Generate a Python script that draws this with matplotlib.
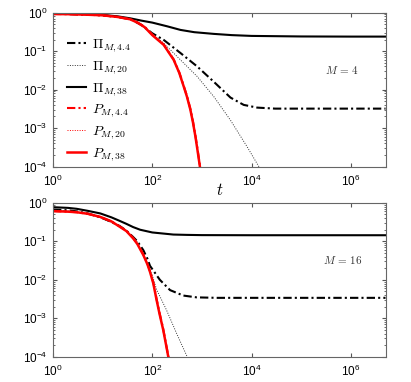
import numpy as np
import matplotlib
matplotlib.use("Agg")
import matplotlib.pyplot as plt
from matplotlib.ticker import LogLocator, NullLocator, FixedLocator, FixedFormatter

plt.rcParams['mathtext.fontset'] = 'cm'
plt.rcParams['font.family'] = ['Liberation Sans', 'DejaVu Sans']

# ---- M = 4 (top panel) ----
t_pi38_a = [1, 2, 5, 10, 20, 36, 60, 100, 200, 370, 700, 1730, 4000, 1e4, 1e5, 1e6, 5e6]
pi38_a = [0.95, 0.94, 0.91, 0.87, 0.8, 0.71, 0.62, 0.55, 0.44, 0.355, 0.31, 0.28, 0.26, 0.248, 0.24, 0.238, 0.238]

t_pi44_a = [1, 2, 5, 10, 20, 36, 60, 100, 170, 370, 800, 1730, 3760, 6950, 1.3e4, 3e4, 1e5, 1e6, 5e6]
pi44_a = [0.93, 0.92, 0.88, 0.85, 0.77, 0.68, 0.48, 0.29, 0.195, 0.089, 0.04, 0.016, 0.0062,
          0.004, 0.0034, 0.0032, 0.0032, 0.0032, 0.0032]

t_pi20_a = [1, 2, 5, 10, 20, 36, 60, 100, 170, 370, 800, 1730, 3760, 8100, 1.4e4, 2e4]
pi20_a = [0.93, 0.92, 0.88, 0.85, 0.77, 0.68, 0.47, 0.28, 0.16, 0.059, 0.022, 0.0066, 0.0016,
          3.3e-4, 1e-4, 4e-5]

t_p_a = [1, 2, 5, 10, 20, 36, 50, 70, 100, 170, 270, 350, 430, 500, 585, 660, 740, 820, 910, 960]
p44_a = [0.92, 0.91, 0.88, 0.85, 0.77, 0.67, 0.56, 0.43, 0.27, 0.148, 0.061, 0.028, 0.0125,
         0.0068, 0.0032, 0.0015, 6.4e-4, 2.7e-4, 1.1e-4, 5.5e-5]
p20_a = [0.92, 0.91, 0.88, 0.85, 0.77, 0.67, 0.55, 0.42, 0.265, 0.146, 0.06, 0.0275, 0.0122,
         0.0066, 0.0031, 0.00145, 6.2e-4, 2.6e-4, 1.05e-4, 5.2e-5]
p38_a = [0.92, 0.91, 0.88, 0.85, 0.77, 0.67, 0.55, 0.42, 0.26, 0.145, 0.059, 0.027, 0.012,
         0.0065, 0.003, 0.0014, 6e-4, 2.5e-4, 1e-4, 5e-5]

# ---- M = 16 (bottom panel) ----
t_pi38_b = [1, 2, 3, 5, 9, 15, 22, 30, 41, 57, 100, 265, 500, 1000, 1e4, 1e6, 5e6]
pi38_b = [0.77, 0.74, 0.7, 0.62, 0.53, 0.42, 0.34, 0.285, 0.235, 0.2, 0.17, 0.15, 0.147, 0.145,
          0.144, 0.144, 0.144]

t_pi44_b = [1, 2, 3, 5, 9, 15, 22, 30, 41, 50, 66, 80, 90, 110, 142, 228, 420, 780, 2000, 1e4, 1e6, 5e6]
pi44_b = [0.67, 0.64, 0.6, 0.53, 0.42, 0.32, 0.25, 0.19, 0.13, 0.1, 0.059, 0.035, 0.023, 0.016,
          0.01, 0.0054, 0.0039, 0.0035, 0.0034, 0.0034, 0.0034, 0.0034]

t_pi20_b = [1, 2, 3, 5, 9, 15, 22, 30, 41, 50, 66, 80, 100, 122, 195, 310, 505, 600]
pi20_b = [0.65, 0.62, 0.59, 0.52, 0.41, 0.31, 0.245, 0.185, 0.125, 0.095, 0.045, 0.026, 0.013,
          0.0056, 0.0016, 4e-4, 1e-4, 5e-5]

t_p_b = [1, 2, 3, 5, 9, 15, 22, 30, 41, 50, 66, 80, 90, 105, 122, 140, 166, 190, 210, 230]
p44_b = [0.61, 0.59, 0.57, 0.52, 0.43, 0.33, 0.245, 0.19, 0.123, 0.088, 0.046, 0.026, 0.017,
         0.0085, 0.0032, 0.0014, 5.3e-4, 2.1e-4, 1.05e-4, 5.3e-5]
p20_b = [0.61, 0.59, 0.57, 0.52, 0.43, 0.33, 0.242, 0.187, 0.121, 0.086, 0.045, 0.0255, 0.0165,
         0.0082, 0.0031, 0.00135, 5.1e-4, 2.05e-4, 1.02e-4, 5.1e-5]
p38_b = [0.61, 0.59, 0.57, 0.52, 0.43, 0.33, 0.24, 0.185, 0.12, 0.085, 0.044, 0.025, 0.016,
         0.008, 0.003, 0.0013, 5e-4, 2e-4, 1e-4, 5e-5]

labels = [r'$\Pi_{M,4.4}$', r'$\Pi_{M,20}$', r'$\Pi_{M,38}$',
          r'$P_{M,4.4}$', r'$P_{M,20}$', r'$P_{M,38}$']

fig = plt.figure(figsize=(4.11, 3.82), dpi=100)
ax1 = fig.add_axes([0.129, 0.564, 0.809, 0.403])
ax2 = fig.add_axes([0.129, 0.066, 0.809, 0.403])

panels = [
    (ax1, t_pi44_a, pi44_a, t_pi20_a, pi20_a, t_pi38_a, pi38_a, t_p_a, p44_a, p20_a, p38_a, r'$M\,=\,4$'),
    (ax2, t_pi44_b, pi44_b, t_pi20_b, pi20_b, t_pi38_b, pi38_b, t_p_b, p44_b, p20_b, p38_b, r'$M\,=\,16$'),
]

dashdot = (0, (4, 1.5, 1, 1.5))
dotted = (0, (1, 1.5))

for ax, t44, y44, t20, y20, t38, y38, tp, q44, q20, q38, mtxt in panels:
    ax.plot(t44, y44, color='black', ls=dashdot, lw=1.5)
    ax.plot(t20, y20, color='#333333', ls=dotted, lw=0.7)
    ax.plot(t38, y38, color='black', ls='-', lw=1.5)
    ax.plot(tp, q44, color='red', ls=dashdot, lw=1.5)
    ax.plot(tp, q20, color='red', ls=dotted, lw=0.7)
    ax.plot(tp, q38, color='red', ls='-', lw=1.8)

    ax.set_xscale('log')
    ax.set_yscale('log')
    ax.set_xlim(1, 5e6)
    ax.set_ylim(1e-4, 1)

    ax.xaxis.set_major_locator(FixedLocator([1, 1e2, 1e4, 1e6]))
    ax.xaxis.set_major_formatter(FixedFormatter([r'$\mathregular{10^{0}}$', r'$\mathregular{10^{2}}$',
                                                 r'$\mathregular{10^{4}}$', r'$\mathregular{10^{6}}$']))
    ax.xaxis.set_minor_locator(NullLocator())
    ax.yaxis.set_major_locator(FixedLocator([1e-4, 1e-3, 1e-2, 1e-1, 1]))
    ax.yaxis.set_major_formatter(FixedFormatter([r'$\mathregular{10^{-4}}$', r'$\mathregular{10^{-3}}$',
                                                 r'$\mathregular{10^{-2}}$', r'$\mathregular{10^{-1}}$',
                                                 r'$\mathregular{10^{0}}$']))
    ax.yaxis.set_minor_locator(LogLocator(base=10, subs=np.arange(2, 10), numticks=20))
    ax.tick_params(which='both', direction='in', top=True, right=True, labelsize=8.5,
                   color='#555555')
    ax.tick_params(axis='y', pad=4)
    ax.tick_params(axis='x', pad=5)
    ax.tick_params(which='major', length=3)
    ax.tick_params(which='minor', length=1.5)
    for s in ax.spines.values():
        s.set_color('#666666')
        s.set_linewidth(0.8)

    ax.text(0.87, 0.628, mtxt, transform=ax.transAxes, fontsize=8, color='#333333',
            ha='center', va='center')

ax1.set_xlabel(r'$t$', fontsize=12, labelpad=-5)
ax1.legend(labels, loc='upper left', bbox_to_anchor=(0.042, 0.84), frameon=False,
           fontsize=10, handlelength=1.4, handletextpad=0.4, labelspacing=0.33,
           borderaxespad=0, borderpad=0)

fig.savefig('out.png', dpi=100)
